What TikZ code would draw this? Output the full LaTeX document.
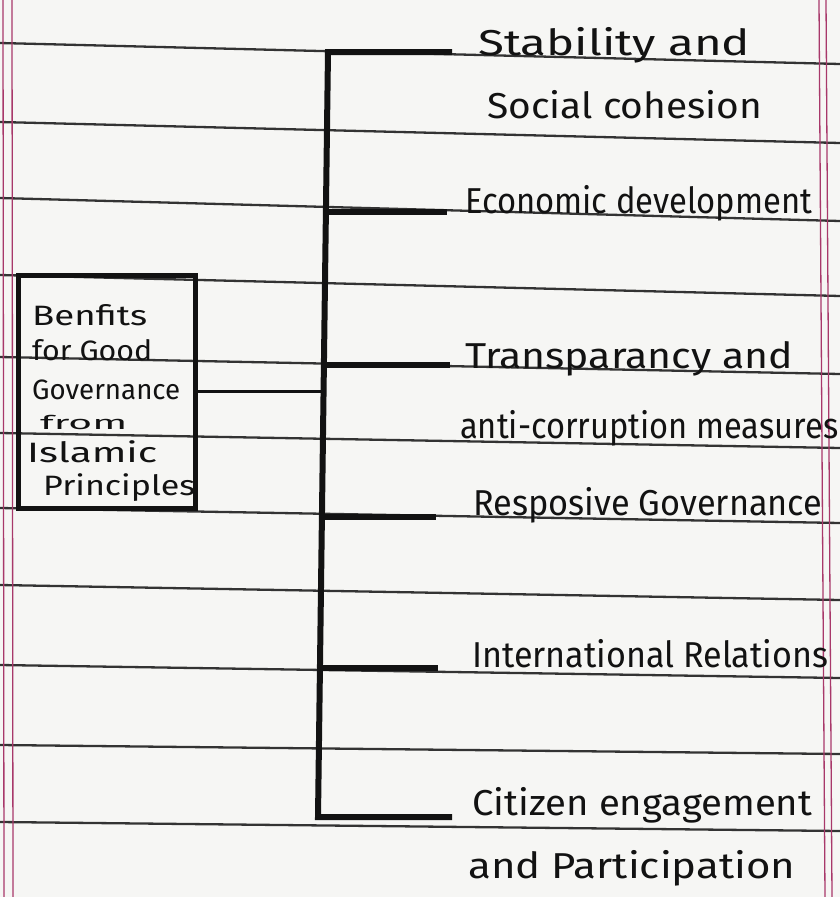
\documentclass[tikz,border=0pt]{standalone}
\usepackage{fontspec}
\setmainfont{Fira Sans}
\usepackage{graphicx}
\definecolor{paper}{HTML}{F6F6F4}
\definecolor{rulegray}{HTML}{333333}
\definecolor{marginred}{HTML}{A8386A}
\definecolor{inkblack}{HTML}{121212}
\newcommand\fitto[2]{\resizebox{#1}{\height}{#2}}
\begin{document}
\begin{tikzpicture}[x=1pt,y=-1pt,
  rule/.style={draw=rulegray,line width=2.3pt},
  marginline/.style={draw=marginred,line width=1.3pt},
  ink/.style={draw=inkblack,line width=6pt,line join=miter,line cap=butt},
  lbl/.style={anchor=base west,inner sep=0pt,text=inkblack,font=\fontsize{36}{40}\selectfont},
  boxlbl/.style={anchor=base west,inner sep=0pt,text=inkblack,font=\fontsize{28}{32}\selectfont},
  smalllbl/.style={anchor=base west,inner sep=0pt,text=inkblack,font=\fontsize{19}{22}\selectfont},
  frame/.style={draw=inkblack,line width=5pt,inner sep=0pt}
]
\fill[paper] (0,0) rectangle (840,897);
\useasboundingbox (0,0) rectangle (840,897);

% ruled notebook lines
\foreach \a/\b in {43/64,122/143,198/221,275/296,357/374,433/448,508/523,585/600,665/678,745/754,822/831}
  \draw[rule] (0,\a) -- (840,\b);

% margin lines
\draw[marginline] (3,0) -- (4,897);
\draw[marginline] (12,0) -- (13,897);
\draw[marginline] (819,0) -- (825,897);
\draw[marginline] (826,0) -- (832,897);

% central box
\node[frame,minimum width=177pt,minimum height=233pt] (box) at (106.5,391.5) {};
\node[boxlbl] (b1) at (32,325) {\fitto{115pt}{Benfits}};
\node[boxlbl] (b2) at (32,360) {\fitto{120pt}{for Good}};
\node[boxlbl] (b3) at (32,399) {\fitto{148pt}{Governance}};
\node[smalllbl] (b4) at (40,429) {\fitto{87pt}{from}};
\node[boxlbl] (b5) at (27,462) {\fitto{130pt}{Islamic}};
\node[boxlbl] (b6) at (43,495) {\fitto{152pt}{Principles}};

% trunk junctions and branch ends
\coordinate (j1) at (328,52);
\coordinate (j2) at (325.9,212);
\coordinate (jb) at (323.6,391.5);
\coordinate (j3) at (323.9,365);
\coordinate (j4) at (321.9,517);
\coordinate (j5) at (319.9,668);
\coordinate (j6) at (318,817);
\coordinate (e1) at (452,52);
\coordinate (e2) at (447,212);
\coordinate (e3) at (450,365);
\coordinate (e4) at (436,517);
\coordinate (e5) at (438,668);
\coordinate (e6) at (452,817);

\draw[ink] (e1) -- (j1) -- (j6) -- (e6);
\draw[ink] (j2) -- (e2);
\draw[ink] (j3) -- (e3);
\draw[ink] (j4) -- (e4);
\draw[ink] (j5) -- (e5);
\draw[ink,line width=3.5pt] (box.east) -- (jb);

% labels
\node[lbl] (s1a) at (478,55) {\fitto{272pt}{Stability and}};
\node[lbl] (s1b) at (487,118) {\fitto{275pt}{Social cohesion}};
\node[lbl] (s2) at (465,213) {\fitto{347pt}{Economic development}};
\node[lbl] (s3a) at (465,368) {\fitto{328pt}{Transparancy and}};
\node[lbl] (s3b) at (460,438) {\fitto{378pt}{anti-corruption measures}};
\node[lbl] (s4) at (473,515) {\fitto{349pt}{Resposive Governance}};
\node[lbl] (s5) at (472,667) {\fitto{356pt}{International Relations}};
\node[lbl] (s6a) at (472,815) {\fitto{340pt}{Citizen engagement}};
\node[lbl] (s6b) at (468,878) {\fitto{327pt}{and Participation}};
\end{tikzpicture}
\end{document}
